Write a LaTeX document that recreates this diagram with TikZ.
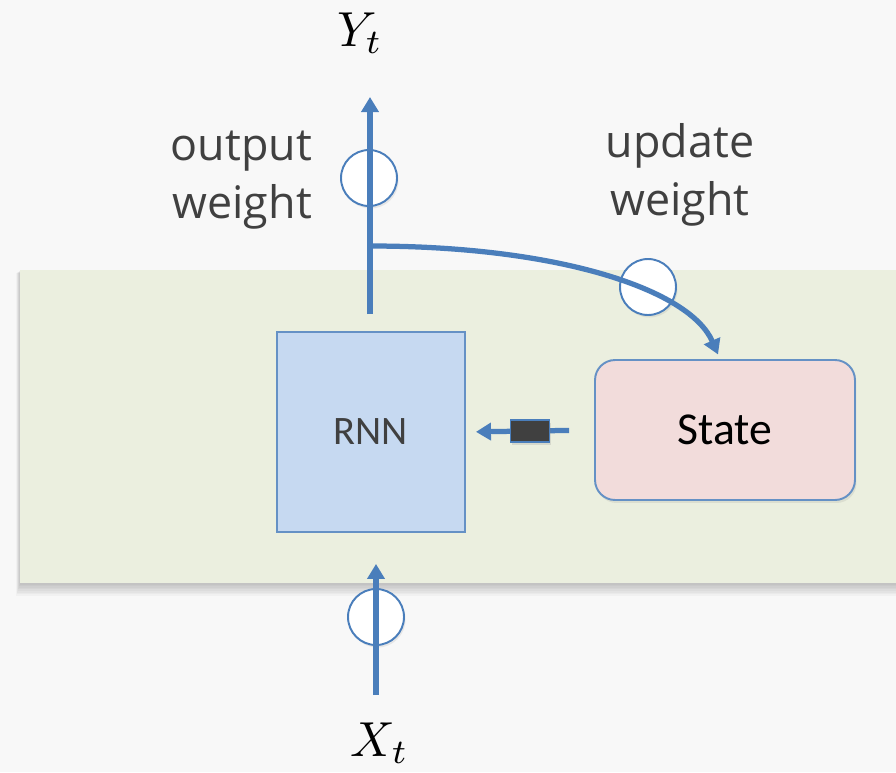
\documentclass[tikz,border=0pt]{standalone}
\usepackage{fontspec}
\setsansfont{Carlito}
\newfontfamily\weightfont{Open Sans}
\usetikzlibrary{arrows.meta,shadows}

\definecolor{pagegrey}{HTML}{F8F8F8}
\definecolor{bandgreen}{HTML}{EBEFDF}
\definecolor{linkblue}{HTML}{4A7EBB}
\definecolor{rnnblue}{HTML}{C6D9F1}
\definecolor{statepink}{HTML}{F2DCDB}
\definecolor{textgrey}{HTML}{404040}

\begin{document}
\begin{tikzpicture}[x=0.02cm, y=-0.02cm,
	flow/.style={draw=linkblue, line width=0.105cm, -{Triangle[length=0.3cm, width=0.34cm]}},
	weight/.style={circle, draw=linkblue, line width=1.1pt, fill=white, minimum size=1.12cm, inner sep=0pt,
		drop shadow={shadow xshift=0.03cm, shadow yshift=-0.05cm, opacity=0.15}},
	cell/.style={rectangle, draw=linkblue!85, line width=1.1pt, font=\sffamily\fontsize{23}{26}\selectfont},
	wlabel/.style={text=textgrey, font=\weightfont\fontsize{25.5}{33}\selectfont}]
	% page and band
	\fill[pagegrey] (0,0) rectangle (896,772);
	\useasboundingbox (0,0) rectangle (896,772);
	\foreach \i in {1,...,8} {
		\fill[black, opacity=0.028] (20-\i*0.5,270+\i*0.4) rectangle (900,583+\i*1.6);
	}
	\fill[bandgreen] (20,270) rectangle (900,583);

	% cells
	\node[cell, fill=rnnblue, text=textgrey, minimum width=3.76cm, minimum height=4cm] (rnn) at (371,432) {RNN};
	\node[cell, fill=statepink, rounded corners=0.4cm, minimum width=5.2cm, minimum height=2.8cm,
		font=\sffamily\fontsize{26}{30}\selectfont,
		drop shadow={shadow xshift=0.03cm, shadow yshift=-0.06cm, opacity=0.15}] (state) at (725,430) {State};

	% weights
	\node[weight] (outw) at (369,178) {};
	\node[weight] (updw) at (648,287) {};
	\node[weight] (inw) at (376,617) {};

	% labels
	\node[scale=2.8] (ylab) at (360,33) {$Y_t$};
	\node[scale=2.8] (xlab) at (380,743) {$X_t$};
	\node[wlabel, align=right, anchor=east] (outlab) at (318,180) {output\\weight};
	\node[wlabel, align=center] (updlab) at (680,175) {update\\weight};

	% connectors
	\coordinate (outtip) at (370,97);
	\coordinate (split) at (370,246);
	\coordinate (xfoot) at (376,695);
	\draw[flow, shorten <=0.34cm] (rnn.north -| outtip) -- (outtip);
	\draw[flow, shorten >=0.1cm] (split) .. controls (560,246) and (690,290) .. ([xshift=-0.1cm]state.north);
	\draw[flow, shorten >=0.62cm] (xfoot) -- (xfoot |- rnn.south);
	\draw[flow, shorten <=0.5cm, shorten >=0.2cm] (state.west) -- (rnn.east);
	\node[rectangle, draw=linkblue, line width=1.1pt, fill=textgrey, minimum width=0.78cm, minimum height=0.44cm,
		inner sep=0pt, drop shadow={shadow xshift=0.03cm, shadow yshift=-0.05cm, opacity=0.2}] (delay) at (530,431) {};
\end{tikzpicture}
\end{document}
